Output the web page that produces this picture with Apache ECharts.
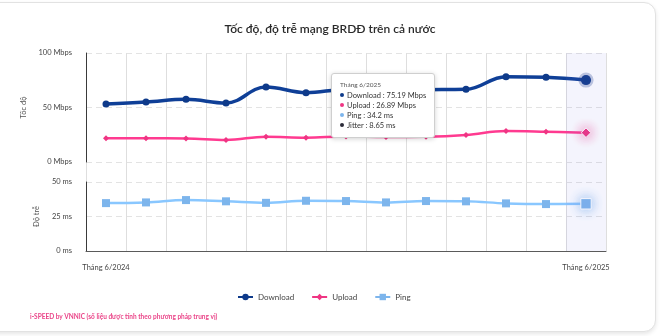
<!DOCTYPE html>
<html>
<head>
<meta charset="utf-8">
<script src="https://cdn.jsdelivr.net/npm/echarts@6/dist/echarts.min.js"></script>
<style>
  html, body { margin: 0; padding: 0; background: #ffffff; }
  body { width: 660px; height: 336px; position: relative; overflow: hidden; }
  .card {
    position: absolute; left: -20px; top: 2px; width: 676px; height: 330px;
    box-sizing: border-box; border: 1px solid #e2e2e2; border-radius: 12px;
    background: #fff; box-shadow: 0 2px 4px rgba(0,0,0,0.10);
  }
  #chart { position: absolute; left: 0; top: 0; width: 660px; height: 336px; }
</style>
</head>
<body>
<div class="card"></div>
<div id="chart"></div>
<script>
// Monthly national fixed-broadband figures (median values)
const months = [
  'Tháng 6/2024', 'Tháng 7/2024', 'Tháng 8/2024', 'Tháng 9/2024', 'Tháng 10/2024',
  'Tháng 11/2024', 'Tháng 12/2024', 'Tháng 1/2025', 'Tháng 2/2025', 'Tháng 3/2025',
  'Tháng 4/2025', 'Tháng 5/2025', 'Tháng 6/2025'
];
const downloadMbps = [53.2, 55.0, 57.5, 54.1, 68.8, 63.6, 66.5, 65.8, 66.3, 66.7, 78.3, 77.7, 75.19];
const uploadMbps   = [21.7, 21.7, 21.6, 20.2, 23.2, 22.3, 23.5, 23.0, 23.2, 24.8, 28.4, 27.8, 26.89];
const pingMs       = [34.7, 35.2, 36.9, 36.0, 34.9, 36.4, 36.2, 35.2, 36.2, 36.0, 34.5, 34.0, 34.2];
// jitter is only published for the latest month
const jitterMs     = [null, null, null, null, null, null, null, null, null, null, null, null, 8.65];

const speedTicks = ['0 Mbps', '50 Mbps', '100 Mbps'];
const latencyTicks = ['0 ms', '25 ms', '50 ms'];

const FONT = 'Lato, "Noto Sans", sans-serif';
const C_DOWN = '#0e3a8a';
const C_UP = '#ef3583';
const C_PING = '#7db5ec';
const C_JIT = '#2b2b38';

const chart = echarts.init(document.getElementById('chart'), null, { renderer: 'canvas' });

function dot(c) {
  return '<span style="display:inline-block;width:4px;height:4px;border-radius:50%;background:' + c +
         ';margin-right:3px;vertical-align:middle;position:relative;top:-1px"></span>';
}
function fmt(v, unit) { return v == null ? '-' : v + ' ' + unit; }

const hiddenAxis = {
  axisLine: { show: false }, axisTick: { show: false },
  axisLabel: { show: false }, splitLine: { show: false }
};

const option = {
  animation: false,
  textStyle: { fontFamily: FONT },
  title: [
    {
      text: 'Tốc độ, độ trễ mạng BRDĐ trên cả nước',
      left: 'center', top: 18,
      textStyle: { fontFamily: FONT, fontSize: 12, fontWeight: 600, color: '#2a2a2a' }
    },
    {
      text: 'i-SPEED by VNNIC (số liệu được tính theo phương pháp trung vị)',
      left: 25, top: 308,
      textStyle: { fontFamily: FONT, fontSize: 6.5, fontWeight: 700, color: '#ea4488' }
    }
  ],
  legend: {
    data: ['Download', 'Upload', 'Ping'],
    left: 232, top: 288,
    itemWidth: 15, itemHeight: 8, itemGap: 17,
    textStyle: { fontFamily: FONT, fontSize: 8, color: '#444' }
  },
  tooltip: {
    trigger: 'axis',
    triggerOn: 'none',
    alwaysShowContent: true,
    transitionDuration: 0,
    position: [331, 73],
    backgroundColor: '#ffffff',
    borderColor: '#cfcfcf',
    borderWidth: 1,
    padding: [6, 8, 6, 8],
    extraCssText: 'box-shadow:0 1px 5px rgba(0,0,0,0.18);border-radius:3px;',
    axisPointer: { type: 'none' },
    formatter: function (params) {
      const i = params[0].dataIndex;
      return '<div style="font-family:' + FONT.replace(/"/g, "'") + ';color:#333;line-height:10px">' +
        '<div style="font-size:6.5px;color:#555;margin-bottom:1px">' + months[i] + '</div>' +
        '<div style="font-size:7.5px">' + dot(C_DOWN) + 'Download : ' + fmt(downloadMbps[i], 'Mbps') + '</div>' +
        '<div style="font-size:7.5px">' + dot(C_UP) + 'Upload : ' + fmt(uploadMbps[i], 'Mbps') + '</div>' +
        '<div style="font-size:7.5px">' + dot(C_PING) + 'Ping : ' + fmt(pingMs[i], 'ms') + '</div>' +
        '<div style="font-size:7.5px">' + dot(C_JIT) + 'Jitter : ' + fmt(jitterMs[i], 'ms') + '</div>' +
        '</div>';
    }
  },
  axisPointer: { link: [{ xAxisIndex: [0, 1, 2] }] },
  grid: [
    { left: 86, right: 54, top: 53, bottom: 174 },   // speed
    { left: 86, right: 54, top: 182, bottom: 85 },   // latency
    { left: 86, right: 54, top: 53, bottom: 85 },    // highlighted month column
    { left: 86, right: 54, top: 53, bottom: 85 }     // month boundaries
  ],
  xAxis: [
    Object.assign({ type: 'category', gridIndex: 0, data: months, boundaryGap: true,
      axisPointer: { type: 'none' } }, hiddenAxis),
    {
      type: 'category', gridIndex: 1, data: months, boundaryGap: true,
      axisPointer: { type: 'none' },
      axisLine: { show: true, lineStyle: { color: '#5a5a5a', width: 1 } },
      axisTick: { show: false },
      splitLine: { show: false },
      axisLabel: {
        show: true, margin: 13, fontSize: 7.5, color: '#444', fontFamily: FONT,
        interval: function (idx) { return idx === 0 || idx === months.length - 1; }
      }
    },
    Object.assign({
      type: 'category', gridIndex: 2, data: months, boundaryGap: true, z: 0,
      axisPointer: { show: true, type: 'shadow', label: { show: false },
        shadowStyle: { color: 'rgba(110,110,235,0.08)' } }
    }, hiddenAxis),
    {
      // one vertical line at every month boundary, across both panels
      type: 'value', gridIndex: 3, min: 0, max: months.length, interval: 1, z: 0,
      axisLine: { show: false }, axisTick: { show: false }, axisLabel: { show: false },
      splitLine: { show: true, lineStyle: { color: '#dedede', width: 1 } },
      axisPointer: { show: false }
    }
  ],
  yAxis: [
    {
      type: 'value', gridIndex: 0, min: 0, max: 100, interval: 50,
      name: 'Tốc độ', nameLocation: 'middle', nameGap: 26, nameRotate: 90,
      nameTextStyle: { fontSize: 7.5, color: '#555', fontFamily: FONT },
      axisLine: { show: true, lineStyle: { color: '#3a3a3a', width: 1 } },
      axisTick: { show: false },
      axisLabel: { fontSize: 7.5, color: '#444', margin: 14, fontFamily: FONT,
        formatter: function (v) { return speedTicks[v / 50]; } },
      splitLine: { show: true, lineStyle: { color: '#e3e3e3', type: [6, 4] } }
    },
    {
      type: 'value', gridIndex: 1, min: 0, max: 50, interval: 25,
      name: 'Độ trễ', nameLocation: 'middle', nameGap: 43, nameRotate: 90,
      nameTextStyle: { fontSize: 7.5, color: '#555', fontFamily: FONT },
      axisLine: { show: true, lineStyle: { color: '#3a3a3a', width: 1 } },
      axisTick: { show: false },
      axisLabel: { fontSize: 7.5, color: '#444', margin: 14, fontFamily: FONT,
        formatter: function (v) { return latencyTicks[v / 25]; } },
      splitLine: { show: true, lineStyle: { color: '#e3e3e3', type: [6, 4] } }
    },
    Object.assign({ type: 'value', gridIndex: 2, min: 0, max: 1 }, hiddenAxis),
    Object.assign({ type: 'value', gridIndex: 3, min: 0, max: 1 }, hiddenAxis)
  ],
  series: [
    {
      name: 'Download', type: 'line', xAxisIndex: 0, yAxisIndex: 0,
      data: downloadMbps, smooth: 0.4, symbol: 'circle', symbolSize: 7,
      lineStyle: { color: C_DOWN, width: 3.5 },
      itemStyle: { color: C_DOWN },
      emphasis: { scale: 1.45, itemStyle: { color: C_DOWN, borderColor: 'rgba(30,60,140,0.28)', borderWidth: 5 } },
      z: 5
    },
    {
      name: 'Upload', type: 'line', xAxisIndex: 0, yAxisIndex: 0,
      data: uploadMbps, smooth: 0.4, symbol: 'diamond', symbolSize: 6,
      lineStyle: { color: C_UP, width: 2.5 },
      itemStyle: { color: C_UP },
      emphasis: { scale: 1.6, itemStyle: { color: C_UP, borderColor: '#fff', borderWidth: 1,
        shadowBlur: 12, shadowColor: 'rgba(239,53,131,0.95)' } },
      z: 4
    },
    {
      name: 'Ping', type: 'line', xAxisIndex: 1, yAxisIndex: 1,
      data: pingMs, smooth: 0.4, symbol: 'rect', symbolSize: 8,
      lineStyle: { color: C_PING, width: 2.5 },
      itemStyle: { color: C_PING },
      emphasis: { scale: 1.3, itemStyle: { color: C_PING, borderColor: '#fff', borderWidth: 1,
        shadowBlur: 12, shadowColor: 'rgba(125,181,236,0.95)' } },
      z: 4
    }
  ]
};

chart.setOption(option);
chart.dispatchAction({ type: 'showTip', seriesIndex: 0, dataIndex: months.length - 1 });
</script>
</body>
</html>
